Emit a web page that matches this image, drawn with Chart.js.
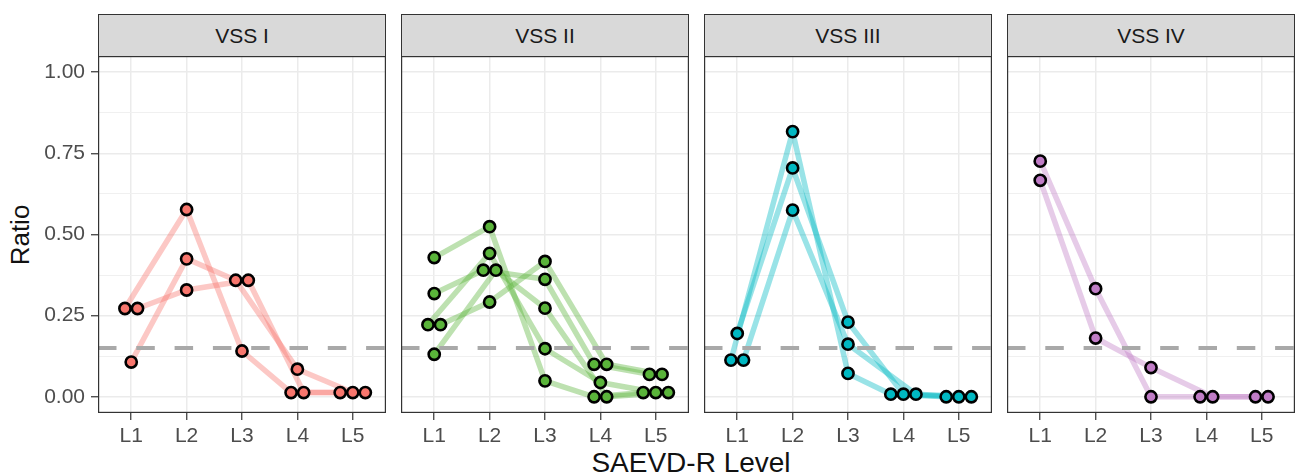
<!DOCTYPE html>
<html>
<head>
<meta charset="utf-8">
<script src="https://cdn.jsdelivr.net/npm/chart.js@4.4.0/dist/chart.umd.min.js"></script>
<style>
  body { margin: 0; background: #fff; font-family: "Liberation Sans", Arial, sans-serif; }
  #wrap { position: relative; width: 1297px; height: 476px; overflow: hidden; }
  .panel { position: absolute; top: 56px; }
  .strip {
    position: absolute; top: 14px; height: 43px; box-sizing: border-box;
    border: 1.2px solid #333; background: #D9D9D9; color: #1A1A1A;
    font-size: 21px; text-align: center; line-height: 41px;
  }
  #ytitle {
    position: absolute; left: 20px; top: 235px; color: #111; font-size: 26px;
    transform: translate(-50%, -50%) rotate(-90deg); white-space: nowrap;
  }
  #xtitle {
    position: absolute; left: 691px; top: 463px; color: #111; font-size: 28px;
    transform: translate(-50%, -50%); white-space: nowrap;
  }
</style>
</head>
<body>
<div id="wrap">
  <div id="ytitle">Ratio</div>
  <div id="xtitle">SAEVD-R Level</div>
</div>
<script>
// categories and facets
const levels = ['L1', 'L2', 'L3', 'L4', 'L5'];
const facets = ['VSS I', 'VSS II', 'VSS III', 'VSS IV'];
const facetColors = ['#F8766D', '#5AB43A', '#00B8C2', '#C07CC6'];
const yTicks = [0, 0.25, 0.5, 0.75, 1];
const threshold = 0.15;

// one row per line (L1..L5)
const vss1 = [
  [0.272, 0.577, 0.141, 0.013, 0.013],
  [0.107, 0.425, 0.359, 0.085, 0.013],
  [0.272, 0.329, 0.359, 0.013, 0.013]
];
const vss2 = [
  [0.429, 0.524, 0.049, 0.000, 0.013],
  [0.318, 0.390, 0.362, 0.100, 0.069],
  [0.222, 0.442, 0.148, 0.044, 0.013],
  [0.222, 0.292, 0.417, 0.100, 0.069],
  [0.131, 0.390, 0.273, 0.000, 0.013]
];
const vss3 = [
  [0.113, 0.817, 0.072, 0.008, 0.000],
  [0.195, 0.705, 0.230, 0.008, 0.000],
  [0.113, 0.575, 0.162, 0.008, 0.000]
];
const vss4 = [
  [0.726, 0.333, 0.000, 0.000, 0.000],
  [0.667, 0.181, 0.090, 0.000, 0.000]
];
const facetData = [vss1, vss2, vss3, vss4];

// layout
const panelLeft = [98, 401, 704, 1007];
const panelW = 288, plotH = 357, axisH = 37, yAxisW = 98;
const fontFamily = '"Liberation Sans", Arial, sans-serif';

function rgba(hex, a) {
  const n = parseInt(hex.slice(1), 16);
  return `rgba(${n >> 16}, ${(n >> 8) & 255}, ${n & 255}, ${a})`;
}

// spread points that share (almost) the same value at a level
function dodge(groups) {
  const xs = groups.map(g => g.map(() => 0));
  levels.forEach((_, li) => {
    const order = groups.map((g, gi) => gi).sort((a, b) => groups[a][li] - groups[b][li]);
    const clusters = [];
    order.forEach(gi => {
      const last = clusters[clusters.length - 1];
      if (last && Math.abs(groups[gi][li] - groups[last[last.length - 1]][li]) < 0.02) last.push(gi);
      else clusters.push([gi]);
    });
    clusters.forEach(c => {
      c.sort((a, b) => a - b);
      c.forEach((gi, k) => { xs[gi][li] = li + 1 + (k - (c.length - 1) / 2) * 0.227; });
    });
  });
  return xs;
}

const panelBorder = {
  id: 'panelBorder',
  afterDraw(chart) {
    const { ctx, chartArea: a } = chart;
    ctx.save();
    ctx.strokeStyle = '#333';
    ctx.lineWidth = 1.2;
    ctx.strokeRect(a.left + 0.6, a.top + 0.6, a.right - a.left - 1.2, a.bottom - a.top - 1.2);
    ctx.restore();
  }
};

const wrap = document.getElementById('wrap');

facets.forEach((name, i) => {
  const strip = document.createElement('div');
  strip.className = 'strip';
  strip.style.left = panelLeft[i] + 'px';
  strip.style.width = panelW + 'px';
  strip.textContent = name;
  wrap.appendChild(strip);

  const left = i === 0 ? 0 : panelLeft[i];
  const width = i === 0 ? panelLeft[0] + panelW : panelW;
  const box = document.createElement('div');
  box.className = 'panel';
  box.style.left = left + 'px';
  const canvas = document.createElement('canvas');
  canvas.width = width;
  canvas.height = plotH + axisH;
  box.appendChild(canvas);
  wrap.appendChild(box);

  const groups = facetData[i];
  const xs = dodge(groups);
  const color = facetColors[i];

  const datasets = groups.map((g, gi) => ({
    type: 'line',
    data: g.map((v, li) => ({ x: xs[gi][li], y: v })),
    borderColor: rgba(color, 0.4),
    borderWidth: 5.5,
    borderJoinStyle: 'round',
    pointRadius: 0,
    tension: 0,
    order: 2
  }));
  datasets.push({
    type: 'line',
    data: [{ x: 0.4, y: threshold }, { x: 5.6, y: threshold }],
    borderColor: '#A9A9A9',
    borderWidth: 4,
    borderDash: [18.5, 19.8],
    pointRadius: 0,
    order: 1
  });
  datasets.push({
    type: 'scatter',
    data: groups.flatMap((g, gi) => g.map((v, li) => ({ x: xs[gi][li], y: v }))),
    backgroundColor: color,
    borderColor: '#000',
    borderWidth: 2.6,
    pointRadius: 5.6,
    order: 0
  });

  new Chart(canvas, {
    type: 'line',
    data: { datasets },
    options: {
      animation: false,
      responsive: false,
      layout: { padding: 0, autoPadding: false },
      plugins: { legend: { display: false }, tooltip: { enabled: false } },
      scales: {
        x: {
          type: 'linear', min: 0.4, max: 5.6,
          afterBuildTicks: s => { s.ticks = levels.map((_, k) => ({ value: k + 1 })); },
          afterFit: s => { s.height = axisH; s.paddingLeft = 0; s.paddingRight = 0; },
          ticks: {
            callback: v => levels[Math.round(v) - 1],
            color: '#4D4D4D', font: { size: 21, family: fontFamily },
            padding: 4, maxRotation: 0, autoSkip: false
          },
          grid: { color: '#EBEBEB', lineWidth: 1.5, tickColor: '#333', tickLength: 7, tickWidth: 1.2 },
          border: { display: false }
        },
        y: {
          type: 'linear', min: -0.05, max: 1.05,
          afterBuildTicks: s => { s.ticks = Array.from({ length: 9 }, (_, k) => ({ value: k * 0.125 })); },
          afterFit: s => { s.width = i === 0 ? yAxisW : 0; s.paddingTop = 0; s.paddingBottom = 0; },
          ticks: {
            display: i === 0,
            callback: v => yTicks.includes(v) ? v.toFixed(2) : '',
            color: '#4D4D4D', font: { size: 21, family: fontFamily },
            padding: 6
          },
          grid: {
            drawTicks: i === 0,
            tickLength: 7,
            tickWidth: 1.2,
            color: ctx => yTicks.includes(ctx.tick.value) ? '#EBEBEB' : '#F0F0F0',
            lineWidth: ctx => yTicks.includes(ctx.tick.value) ? 1.5 : 1,
            tickColor: ctx => yTicks.includes(ctx.tick.value) ? '#333' : 'rgba(0,0,0,0)'
          },
          border: { display: false }
        }
      }
    },
    plugins: [panelBorder]
  });
});
</script>
</body>
</html>
